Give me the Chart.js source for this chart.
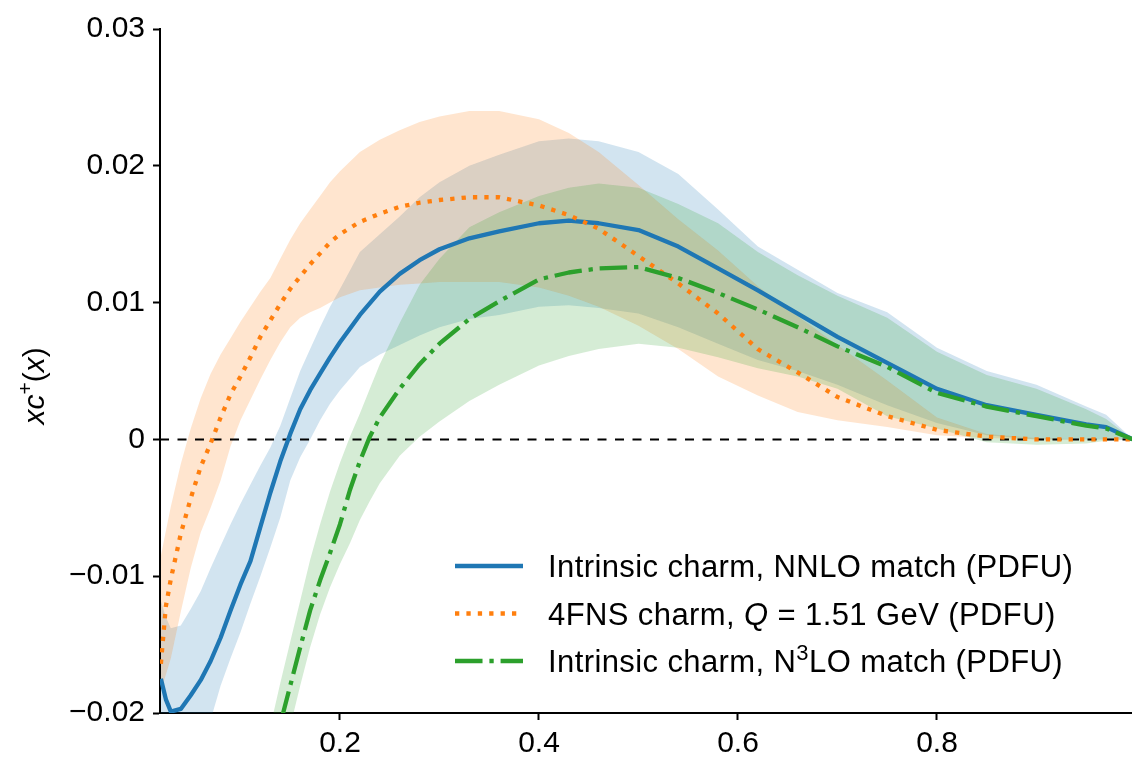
<!DOCTYPE html>
<html>
<head>
<meta charset="utf-8">
<script src="https://cdn.jsdelivr.net/npm/chart.js@4.4.1/dist/chart.umd.min.js"></script>
<style>
  html, body { margin: 0; padding: 0; background: #ffffff; }
  #wrap { width: 1132px; height: 758px; position: relative; }
</style>
</head>
<body>
<div id="wrap"><canvas id="chart"></canvas></div>
<script>
// x grid shared by the NNLO-matched and 4FNS curves
const X = [0.02, 0.025, 0.03, 0.04, 0.05, 0.06, 0.07, 0.08, 0.09, 0.10, 0.11, 0.12, 0.13, 0.14, 0.15,
           0.16, 0.17, 0.18, 0.19, 0.20, 0.22, 0.24, 0.26, 0.28, 0.30, 0.33, 0.36, 0.40, 0.43, 0.46,
           0.50, 0.54, 0.58, 0.62, 0.66, 0.70, 0.75, 0.80, 0.85, 0.90, 0.95, 0.97, 0.997];

// Intrinsic charm, NNLO match: central value and PDF uncertainty band
const NNLO_MID = [-0.0175, -0.0190, -0.0199, -0.0197, -0.0187, -0.0176, -0.0162, -0.0145, -0.0125, -0.0106, -0.0089, -0.0064, -0.0039, -0.0016, 0.0004,
                  0.0022, 0.0036, 0.0048, 0.0060, 0.0071, 0.0091, 0.0108, 0.0121, 0.0131, 0.0139, 0.0147, 0.0152, 0.0158, 0.0160, 0.0158,
                  0.0153, 0.0141, 0.0125, 0.0109, 0.0092, 0.0075, 0.0056, 0.0037, 0.0025, 0.0018, 0.0011, 0.0009, 0.0];
const NNLO_LO  = [-0.0320, -0.0310, -0.0300, -0.0280, -0.0260, -0.0235, -0.0205, -0.0180, -0.0160, -0.0141, -0.0120, -0.0100, -0.0079, -0.0057, -0.0030,
                  -0.0013, 0.0000, 0.0014, 0.0026, 0.0036, 0.0053, 0.0062, 0.0069, 0.0076, 0.0082, 0.0088, 0.0091, 0.0097, 0.0098, 0.0096,
                  0.0092, 0.0082, 0.0070, 0.0058, 0.0050, 0.0040, 0.0025, 0.0012, 0.0003, 0.0, 0.0, 0.0, 0.0];
const NNLO_HI  = [-0.0118, -0.0130, -0.0138, -0.0136, -0.0124, -0.0111, -0.0094, -0.0078, -0.0062, -0.0047, -0.0033, -0.0019, -0.0006, 0.0010, 0.0030,
                  0.0050, 0.0066, 0.0082, 0.0097, 0.0110, 0.0137, 0.0150, 0.0163, 0.0177, 0.0188, 0.0200, 0.0208, 0.0218, 0.0220, 0.0218,
                  0.0210, 0.0194, 0.0168, 0.0141, 0.0124, 0.0107, 0.0093, 0.0067, 0.0050, 0.0040, 0.0024, 0.0018, 0.0];

// 4FNS charm at Q = 1.51 GeV: central value and PDF uncertainty band
const FNS4_MID = [-0.0164, -0.0122, -0.0102, -0.0069, -0.0043, -0.0020, -0.0003, 0.0016, 0.0033, 0.0046, 0.0060, 0.0075, 0.0087, 0.0099, 0.0110,
                  0.0119, 0.0128, 0.0136, 0.0144, 0.0150, 0.0159, 0.0165, 0.0170, 0.0173, 0.0175, 0.0177, 0.0177, 0.0171, 0.0164, 0.0154,
                  0.0134, 0.0114, 0.0092, 0.0066, 0.0049, 0.0031, 0.0017, 0.0007, 0.0002, 0.0, 0.0, 0.0, 0.0];
const FNS4_LO  = [-0.0183, -0.0172, -0.0160, -0.0126, -0.0094, -0.0068, -0.0050, -0.0030, -0.0005, 0.0014, 0.0029, 0.0044, 0.0058, 0.0071, 0.0082,
                  0.0089, 0.0093, 0.0096, 0.0100, 0.0104, 0.0109, 0.0111, 0.0113, 0.0114, 0.0115, 0.0115, 0.0115, 0.0111, 0.0105, 0.0097,
                  0.0083, 0.0066, 0.0046, 0.0032, 0.0020, 0.0014, 0.0009, 0.0003, 0.0001, 0.0, 0.0, 0.0, 0.0];
const FNS4_HI  = [-0.0085, -0.0067, -0.0049, -0.0018, 0.0008, 0.0030, 0.0048, 0.0062, 0.0074, 0.0086, 0.0097, 0.0108, 0.0118, 0.0132, 0.0146,
                  0.0158, 0.0168, 0.0178, 0.0188, 0.0196, 0.0210, 0.0219, 0.0226, 0.0232, 0.0236, 0.0240, 0.0240, 0.0234, 0.0224, 0.0210,
                  0.0186, 0.0161, 0.0138, 0.0112, 0.0090, 0.0069, 0.0043, 0.0016, 0.0004, 0.0001, 0.0, 0.0, 0.0];

// x grid of the N3LO-matched curve
const GX = [0.13, 0.14, 0.15, 0.16, 0.17, 0.18, 0.19, 0.20, 0.21, 0.22, 0.23, 0.24, 0.26, 0.28, 0.30, 0.33, 0.36,
            0.40, 0.43, 0.46, 0.50, 0.54, 0.58, 0.62, 0.66, 0.70, 0.75, 0.80, 0.85, 0.90, 0.95, 0.97, 0.997];

// Intrinsic charm, N3LO match: central value and PDF uncertainty band
const N3LO_MID = [-0.0236, -0.0208, -0.0180, -0.0152, -0.0125, -0.0103, -0.0083, -0.0062, -0.0037, -0.0016, 0.0002, 0.0016, 0.0037, 0.0055, 0.0070, 0.0088, 0.0101,
                  0.0117, 0.0122, 0.0125, 0.0126, 0.0118, 0.0107, 0.0095, 0.0082, 0.0068, 0.0053, 0.0034, 0.0024, 0.0017, 0.0010, 0.0008, 0.0];
const N3LO_LO  = [-0.0280, -0.0245, -0.0210, -0.0180, -0.0152, -0.0128, -0.0108, -0.0091, -0.0076, -0.0059, -0.0045, -0.0032, -0.0012, 0.0002, 0.0013, 0.0028, 0.0040,
                  0.0054, 0.0061, 0.0066, 0.0070, 0.0067, 0.0060, 0.0052, 0.0046, 0.0037, 0.0017, 0.0008, -0.0002, -0.0004, -0.0003, -0.0001, 0.0];
const N3LO_HI  = [-0.0210, -0.0178, -0.0148, -0.0118, -0.0088, -0.0062, -0.0038, -0.0017, 0.0002, 0.0019, 0.0037, 0.0055, 0.0085, 0.0113, 0.0132, 0.0155, 0.0166,
                  0.0178, 0.0184, 0.0187, 0.0184, 0.0172, 0.0158, 0.0137, 0.0120, 0.0105, 0.0089, 0.0064, 0.0047, 0.0037, 0.0022, 0.0015, 0.0];

// axes
const X_MIN = 0.0191, X_MAX = 0.996;
const Y_MIN = -0.02, Y_MAX = 0.03;
const X_TICKS = [0.2, 0.4, 0.6, 0.8];
const X_TICK_LABELS = ['0.2', '0.4', '0.6', '0.8'];
const Y_TICKS = [-0.02, -0.01, 0, 0.01, 0.02, 0.03];
const Y_TICK_LABELS = ['\u22120.02', '\u22120.01', '0', '0.01', '0.02', '0.03'];

// text pieces: [text, italic, superscript]
const Y_TITLE = [['xc', true, false], ['+', false, true], ['(', false, false], ['x', true, false], [')', false, false]];
const LEGEND_LABELS = [
  [['Intrinsic charm, NNLO match (PDFU)', false, false]],
  [['4FNS charm, ', false, false], ['Q', true, false], [' = 1.51 GeV (PDFU)', false, false]],
  [['Intrinsic charm, N', false, false], ['3', false, true], ['LO match (PDFU)', false, false]]
];

// styling
const FONT = "'Liberation Sans', Arial, Helvetica, sans-serif";
const FS = 30;        // tick labels and axis title
const LEG_FS = 31;    // legend entries
const BLUE = '#1f77b4', ORANGE = '#ff7f0e', GREEN = '#2ca02c';
const LW = 4.3;
const SOLID = [];
const DOTTED = [LW, LW * 1.65];
const DASHDOT = [LW * 6.4, LW * 1.6, LW, LW * 1.6];
const LEGEND_STYLE = [[BLUE, SOLID], [ORANGE, DOTTED], [GREEN, DASHDOT]];

const pts = (xs, ys) => xs.map((x, i) => ({ x: x, y: ys[i] }));

function edge(xs, ys, order) {
  return { data: pts(xs, ys), borderWidth: 0, borderColor: 'rgba(0,0,0,0)', pointRadius: 0, fill: false, order: order };
}
function band(xs, ys, target, color, order) {
  return { data: pts(xs, ys), borderWidth: 0, borderColor: 'rgba(0,0,0,0)', pointRadius: 0,
           fill: { target: target }, backgroundColor: color, order: order };
}
function curve(xs, ys, color, dash, order) {
  return { data: pts(xs, ys), borderColor: color, borderWidth: LW, borderDash: dash, borderCapStyle: 'butt',
           borderJoinStyle: 'round', pointRadius: 0, fill: false, tension: 0, order: order };
}

function fontOf(size, italic, sup) {
  return (italic ? 'italic ' : '') + (sup ? Math.round(size * 0.7) : size) + 'px ' + FONT;
}
function runsWidth(ctx, runs, size) {
  let w = 0;
  runs.forEach(r => { ctx.font = fontOf(size, r[1], r[2]); w += ctx.measureText(r[0]).width; });
  return w;
}
function drawRuns(ctx, runs, x, baseline, size) {
  ctx.fillStyle = '#000';
  ctx.textBaseline = 'alphabetic';
  ctx.textAlign = 'left';
  runs.forEach(r => {
    ctx.font = fontOf(size, r[1], r[2]);
    ctx.fillText(r[0], x, r[2] ? baseline - size * 0.38 : baseline);
    x += ctx.measureText(r[0]).width;
  });
}

// y-axis title and legend, drawn with mixed italic / superscript text
const annotations = {
  id: 'annotations',
  afterDraw(chart) {
    const ctx = chart.ctx;
    ctx.save();
    ctx.translate(33, 386);
    ctx.rotate(-Math.PI / 2);
    const w = runsWidth(ctx, Y_TITLE, FS);
    drawRuns(ctx, Y_TITLE, -w / 2, FS * 0.36, FS);
    ctx.restore();

    LEGEND_LABELS.forEach((runs, i) => {
      const y = 566 + i * 47.5;
      ctx.save();
      ctx.strokeStyle = LEGEND_STYLE[i][0];
      ctx.lineWidth = LW;
      ctx.lineCap = 'butt';
      ctx.setLineDash(LEGEND_STYLE[i][1]);
      ctx.beginPath();
      ctx.moveTo(455, y);
      ctx.lineTo(523, y);
      ctx.stroke();
      ctx.restore();
      ctx.save();
      if ('letterSpacing' in ctx) ctx.letterSpacing = '0.4px';
      drawRuns(ctx, runs, 548, y + LEG_FS * 0.36, LEG_FS);
      ctx.restore();
    });
  }
};

const tickFont = { family: FONT, size: FS };

new Chart(document.getElementById('chart'), {
  type: 'line',
  data: {
    datasets: [
      edge(X, NNLO_LO, 9),
      band(X, NNLO_HI, 0, 'rgba(31,119,180,0.2)', 9),
      edge(X, FNS4_LO, 8),
      band(X, FNS4_HI, 2, 'rgba(255,127,14,0.2)', 8),
      edge(GX, N3LO_LO, 7),
      band(GX, N3LO_HI, 4, 'rgba(44,160,44,0.2)', 7),
      { data: [{ x: X_MIN, y: 0 }, { x: X_MAX, y: 0 }], borderColor: '#000', borderWidth: 2,
        borderDash: [9, 8.5], pointRadius: 0, fill: false, order: 4 },
      curve(X, NNLO_MID, BLUE, SOLID, 3),
      curve(X, FNS4_MID, ORANGE, DOTTED, 2),
      curve(GX, N3LO_MID, GREEN, DASHDOT, 1)
    ]
  },
  options: {
    responsive: true,
    maintainAspectRatio: false,
    animation: false,
    devicePixelRatio: 1,
    events: [],
    layout: { padding: { top: 29, right: 0, bottom: 0, left: 0 } },
    plugins: {
      legend: { display: false },
      tooltip: { enabled: false },
      filler: { drawTime: 'beforeDatasetsDraw' }
    },
    scales: {
      x: {
        type: 'linear',
        min: X_MIN,
        max: X_MAX,
        afterBuildTicks: s => { s.ticks = X_TICKS.map(v => ({ value: v })); },
        afterFit: s => { s.height = 45; },
        ticks: {
          font: tickFont, color: '#000', padding: 6, maxRotation: 0, autoSkip: false,
          callback: v => X_TICK_LABELS[X_TICKS.findIndex(t => Math.abs(t - v) < 1e-9)]
        },
        grid: { display: true, drawOnChartArea: false, drawTicks: true, tickLength: 7, tickWidth: 2, tickColor: '#000' },
        border: { display: true, color: '#000', width: 2 }
      },
      y: {
        type: 'linear',
        min: Y_MIN,
        max: Y_MAX,
        afterBuildTicks: s => { s.ticks = Y_TICKS.map(v => ({ value: v })); },
        afterFit: s => { s.width = 160; },
        ticks: {
          font: tickFont, color: '#000', padding: 8, autoSkip: false,
          callback: v => Y_TICK_LABELS[Y_TICKS.findIndex(t => Math.abs(t - v) < 1e-9)]
        },
        grid: { display: true, drawOnChartArea: false, drawTicks: true, tickLength: 7, tickWidth: 2, tickColor: '#000' },
        border: { display: true, color: '#000', width: 2 }
      }
    }
  },
  plugins: [annotations]
});
</script>
</body>
</html>
